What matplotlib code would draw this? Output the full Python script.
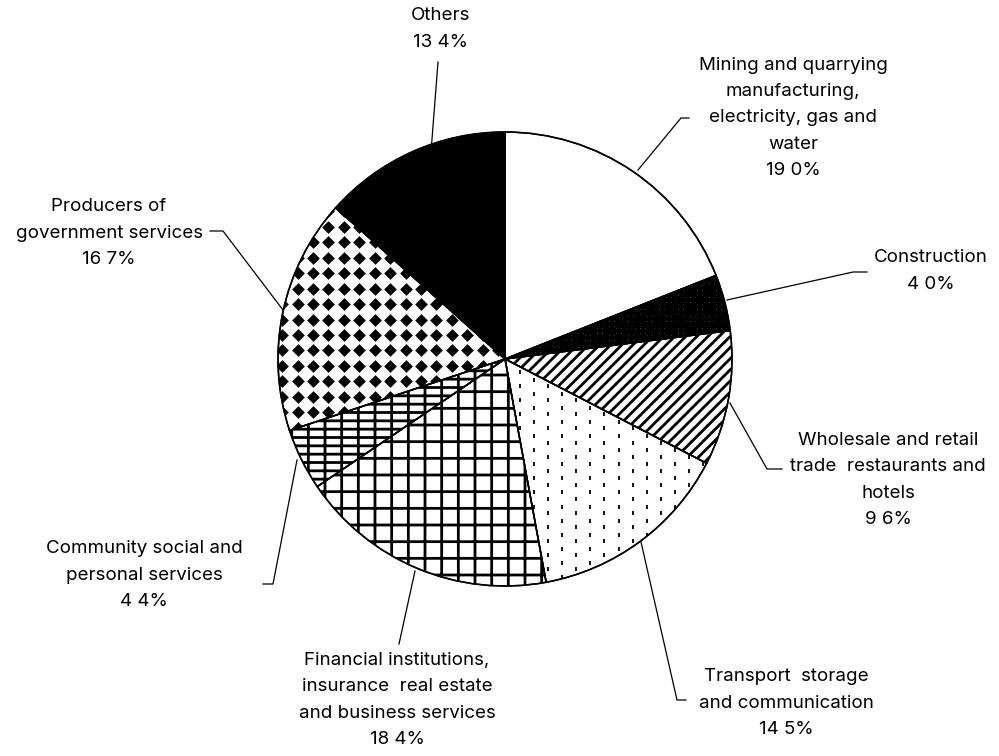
import numpy as np
import matplotlib.pyplot as plt
from matplotlib.patches import Wedge

plt.rcParams['font.family'] = ['Inter', 'Liberation Sans', 'DejaVu Sans']
plt.rcParams['hatch.linewidth'] = 2.0

# data, clockwise from 12 o'clock
sectors = ['Mining', 'Construction', 'Wholesale', 'Transport',
           'Financial', 'Community', 'Producers', 'Others']
shares = [19.0, 4.0, 9.6, 14.5, 18.4, 4.4, 16.7, 13.4]
labels = [
    'Mining and quarrying\nmanufacturing,\nelectricity, gas and\nwater\n19 0%',
    'Construction\n4 0%',
    'Wholesale and retail\ntrade  restaurants and\nhotels\n9 6%',
    'Transport  storage\nand communication\n14 5%',
    'Financial institutions,\ninsurance  real estate\nand business services\n18 4%',
    'Community social and\npersonal services\n4 4%',
    'Producers of\ngovernment services\n16 7%',
    'Others\n13 4%',
]
face_colors = ['white'] * 7 + ['black']
hatches = [None, 'xxxxxxx', '///', None, '+', '+-', None, None]

# label centres and leader lines, in pixels of the 999x756 image
label_xy = [(793, 118), (931, 271), (888, 480), (786, 703),
            (397, 700), (144, 575), (109, 233), (441, 29)]
leaders = [
    [(638, 170), (681, 118), (689, 118)],
    [(727, 300), (853, 272), (867, 272)],
    [(730, 403), (767, 469), (782, 469)],
    [(641, 542), (677, 700), (686, 700)],
    [(415, 571), (399, 644)],
    [(297, 460), (273, 584), (263, 584)],
    [(283, 310), (223, 231), (210, 231)],
    [(431, 152), (438, 62)],
]

W, H = 999, 756
cx, cy, R = 505, 359, 227


def to_data(p):
    return (p[0] - cx) / R, (cy - p[1]) / R


def texture(ax, wedge, marker, step, size, lw=0, stagger=0.0):
    # regular grid of markers clipped to the wedge
    g = np.arange(-1.05, 1.05, step)
    gx, gy = np.meshgrid(g, g)
    gy = gy + (np.arange(len(g)) % 2)[None, :] * step * stagger
    pts = ax.scatter(gx.ravel(), gy.ravel(), marker=marker, s=size,
                     c='black', linewidths=lw, zorder=2)
    pts.set_clip_path(wedge)


fig = plt.figure(figsize=(W / 100, H / 100), dpi=100)
ax = fig.add_axes([0, 0, 1, 1])

wedges, _ = ax.pie(shares, startangle=90, counterclock=False, radius=1,
                   colors=face_colors, hatch=hatches,
                   wedgeprops=dict(edgecolor='black', linewidth=1.1))
for w in wedges:
    w.set_zorder(1)

# small vertical dashes for transport, diamonds for producers
texture(ax, wedges[3], '|', 0.062, 9, lw=1.3, stagger=0.45)
texture(ax, wedges[6], 'D', 0.068, 42)

# outlines on top of textures
for w in wedges:
    ax.add_patch(Wedge(w.center, w.r, w.theta1, w.theta2, fill=False,
                       edgecolor='black', linewidth=1.1, zorder=3))

for text, xy, line in zip(labels, label_xy, leaders):
    x, y = to_data(xy)
    ax.text(x, y, text, ha='center', va='center', fontsize=13.5,
            linespacing=1.72)
    pts = np.array([to_data(p) for p in line])
    ax.plot(pts[:, 0], pts[:, 1], color='black', linewidth=0.9)

ax.set_aspect('auto')
ax.set_xlim(-cx / R, (W - cx) / R)
ax.set_ylim((cy - H) / R, cy / R)
ax.axis('off')

fig.savefig('out.png', dpi=100, facecolor='white')
